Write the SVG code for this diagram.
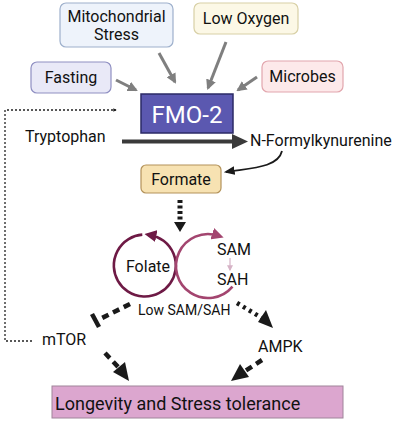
<svg xmlns="http://www.w3.org/2000/svg" width="403" height="421" viewBox="0 0 403 421">
<style>
text{font-family:Roboto,"Liberation Sans",sans-serif;fill:#111;}
.t16{font-size:16px;}
.gray{stroke:#7f7f7f;stroke-width:3;fill:none;}
</style>
<defs>
<marker id="ag" viewBox="0 0 10 10" refX="8" refY="5" markerWidth="3.4" markerHeight="3.4" orient="auto"><path d="M0,0L10,5L0,10z" fill="#7f7f7f"/></marker>
<marker id="ab" viewBox="0 0 10 10" refX="8" refY="5" markerWidth="2.6" markerHeight="2.6" orient="auto"><path d="M0,0L10,5L0,10z" fill="#1a1a1a"/></marker>
<marker id="abt" viewBox="0 0 10 10" refX="8" refY="5" markerWidth="6" markerHeight="6" orient="auto"><path d="M0,1L10,5L0,9z" fill="#1a1a1a"/></marker>
<marker id="am1" viewBox="0 0 10 10" refX="5" refY="5" markerWidth="12" markerHeight="12" markerUnits="userSpaceOnUse" orient="auto"><path d="M0,0L10,5L0,10z" fill="#6e1a45"/></marker>
<marker id="am2" viewBox="0 0 10 10" refX="5" refY="5" markerWidth="12" markerHeight="12" markerUnits="userSpaceOnUse" orient="auto"><path d="M0,0L10,5L0,10z" fill="#a3456f"/></marker>
<marker id="ap" viewBox="0 0 10 10" refX="8" refY="5" markerWidth="5" markerHeight="5" orient="auto"><path d="M0,0L10,5L0,10z" fill="#d6b3c6"/></marker>
</defs>

<g id="connectors">
<line class="gray" x1="116" y1="80" x2="136" y2="90" marker-end="url(#ag)"/>
<line class="gray" x1="159" y1="53" x2="175" y2="82" marker-end="url(#ag)"/>
<line class="gray" x1="226" y1="42" x2="208" y2="88" marker-end="url(#ag)"/>
<line class="gray" x1="257" y1="77" x2="238" y2="90" marker-end="url(#ag)"/>
<polyline points="32,341 5,341 5,110 116,110" fill="none" stroke="#222" stroke-width="1.3" stroke-dasharray="2,2" marker-end="url(#ab)"/>
<line x1="122" y1="141.5" x2="234" y2="141.5" stroke="#3a3a3a" stroke-width="4"/>
<path d="M232,134L248,141.5L232,149z" fill="#3a3a3a"/>
<path d="M282,151C278,168 250,168 226,172" fill="none" stroke="#1a1a1a" stroke-width="1.8" marker-end="url(#abt)"/>
<line x1="180" y1="200" x2="180" y2="222" stroke="#1a1a1a" stroke-width="5" stroke-dasharray="3,2.5"/>
<path d="M174,222L186,222L180,232z" fill="#1a1a1a"/>
<path d="M142.3,234.6A31,31 0 1 0 150.4,235" fill="none" stroke="#6e1a45" stroke-width="2.6" marker-end="url(#am1)"/>
<path d="M232.5,286.6A32,32 0 1 1 217.9,235.6" fill="none" stroke="#a3456f" stroke-width="2.6" marker-end="url(#am2)"/>
<line x1="230" y1="258" x2="230" y2="270" stroke="#d6b3c6" stroke-width="1.2" marker-end="url(#ap)"/>
<line x1="130" y1="304" x2="98" y2="320" stroke="#1a1a1a" stroke-width="4.5" stroke-dasharray="7,5"/>
<line x1="92" y1="314" x2="99" y2="327" stroke="#1a1a1a" stroke-width="4.5"/>
<line x1="237" y1="303" x2="262" y2="318" stroke="#1a1a1a" stroke-width="4.5" stroke-dasharray="3,4"/>
<path d="M258,322L266,310L273,328z" fill="#1a1a1a"/>
<line x1="105" y1="353" x2="121" y2="370" stroke="#1a1a1a" stroke-width="4.5" stroke-dasharray="7,5"/>
<path d="M113,372L125,362L129,381z" fill="#1a1a1a"/>
<line x1="262" y1="360" x2="245" y2="371" stroke="#1a1a1a" stroke-width="4.5" stroke-dasharray="7,5"/>
<path d="M240,364L249,377L231,381z" fill="#1a1a1a"/>
</g>

<g id="mito"><rect x="60" y="3" width="113" height="44" rx="6" fill="#eef3fb" stroke="#9eb0cc" stroke-width="1.2"/><text class="t16" x="116.5" y="22" text-anchor="middle">Mitochondrial</text><text class="t16" x="116.5" y="40" text-anchor="middle">Stress</text></g>
<g id="lowoxygen"><rect x="194" y="3" width="104" height="31" rx="6" fill="#fcf8e6" stroke="#d8d0a6" stroke-width="1.2"/><text class="t16" x="246" y="23.5" text-anchor="middle">Low Oxygen</text></g>
<g id="fasting"><rect x="31" y="62" width="80" height="31" rx="6" fill="#e9e9f7" stroke="#8f8fc2" stroke-width="1.2"/><text class="t16" x="71" y="83" text-anchor="middle">Fasting</text></g>
<g id="microbes"><rect x="262" y="61" width="81" height="31" rx="6" fill="#fde9ea" stroke="#e2a6ad" stroke-width="1.2"/><text class="t16" x="302.5" y="82" text-anchor="middle">Microbes</text></g>
<g id="fmo2"><rect x="141" y="94" width="92" height="39" fill="#5b58b0" stroke="#2b2a66" stroke-width="1.5"/><text x="187" y="122.5" text-anchor="middle" style="font-size:24px;fill:#fff">FMO-2</text></g>
<g id="tryptophan"><text class="t16" x="25" y="142">Tryptophan</text></g>
<g id="nfk"><text class="t16" x="250" y="146">N-Formylkynurenine</text></g>
<g id="formate"><rect x="141" y="165" width="80" height="28" rx="5" fill="#f7e2b2" stroke="#b3925a" stroke-width="1.2"/><text class="t16" x="181" y="185" text-anchor="middle">Formate</text></g>
<g id="folate"><text class="t16" x="148" y="272" text-anchor="middle">Folate</text></g>
<g id="sam"><text class="t16" x="217" y="255">SAM</text></g>
<g id="sah"><text class="t16" x="217" y="285">SAH</text></g>
<g id="lowsamsah"><text x="138" y="315" style="font-size:14px">Low SAM/SAH</text></g>
<g id="mtor"><text class="t16" x="42" y="345">mTOR</text></g>
<g id="ampk"><text class="t16" x="258" y="352">AMPK</text></g>
<g id="longevity"><rect x="52" y="386" width="291" height="32" fill="#dca6cf" stroke="#a0849a" stroke-width="1"/><text x="55" y="410" style="font-size:18px">Longevity and Stress tolerance</text></g>
</svg>
